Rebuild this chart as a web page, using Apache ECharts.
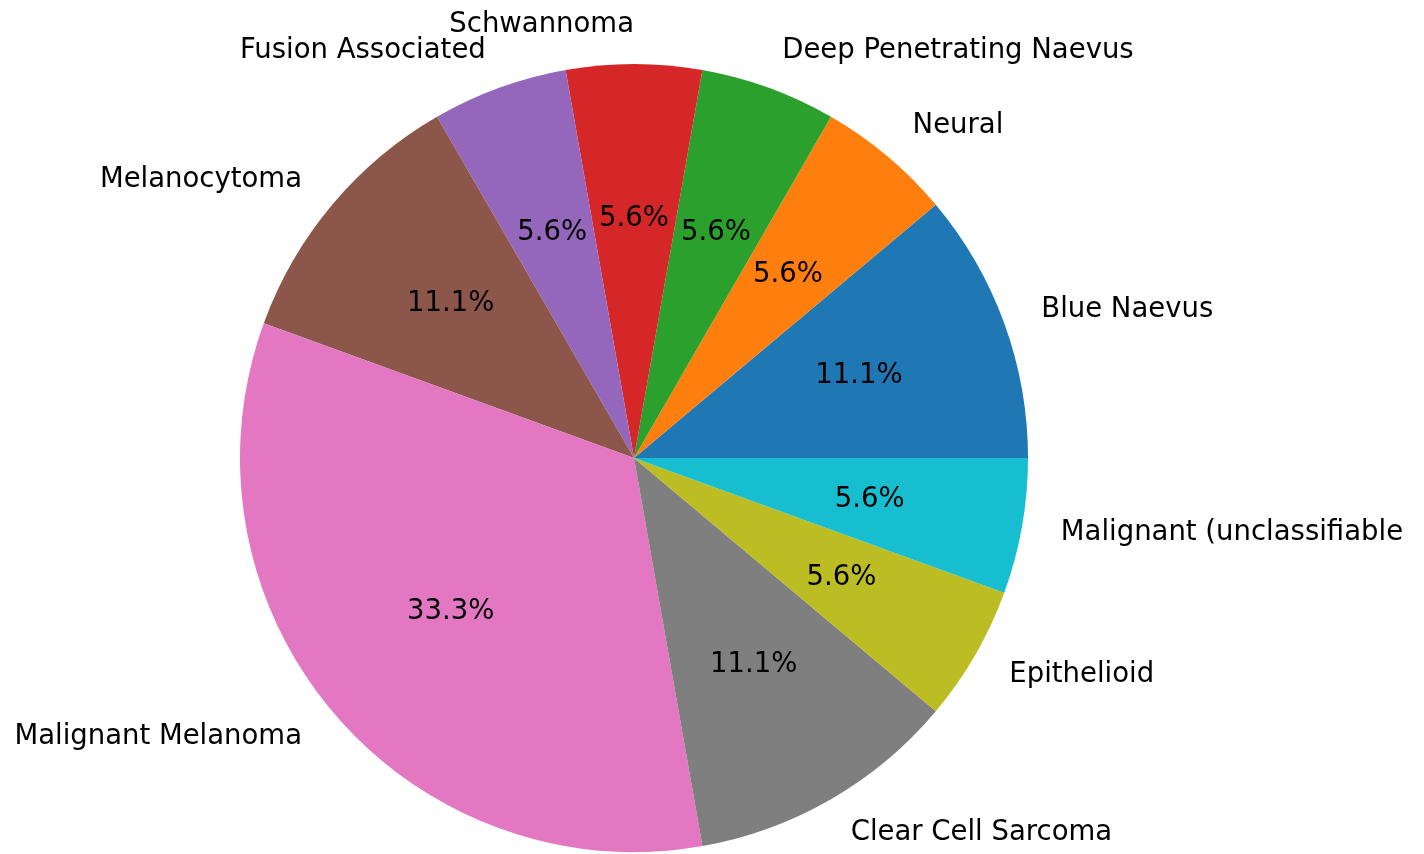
<!DOCTYPE html>
<html>
<head>
<meta charset="utf-8">
<script src="https://cdn.jsdelivr.net/npm/echarts@6/dist/echarts.min.js"></script>
<style>
html,body{margin:0;padding:0;background:#fff;}
#chart{width:1424px;height:854px;}
</style>
</head>
<body>
<div id="chart"></div>
<script>
// 类别与数量（逆时针，从3点钟方向开始）
var categories = ['Blue Naevus', 'Neural', 'Deep Penetrating Naevus', 'Schwannoma', 'Fusion Associated',
	'Melanocytoma', 'Malignant Melanoma', 'Clear Cell Sarcoma', 'Epithelioid', 'Malignant (unclassifiable'];
var counts = [2, 1, 1, 1, 1, 2, 6, 2, 1, 1];
var colors = ['#1f77b4', '#ff7f0e', '#2ca02c', '#d62728', '#9467bd', '#8c564b', '#e377c2', '#7f7f7f', '#bcbd22', '#17becf'];

var R = 394;
var center = [634, 458];
var font = 'DejaVu Sans';
var total = counts.reduce(function (a, b) { return a + b; }, 0);

var data = categories.map(function (name, i) {
	return { name: name, value: counts[i] };
});

var myChart = echarts.init(document.getElementById('chart'));
myChart.setOption({
	animation: false,
	color: colors,
	series: [
		{
			// 扇形本体 + 外部标签
			type: 'pie',
			center: center,
			radius: [0, R],
			startAngle: 0,
			clockwise: false,
			avoidLabelOverlap: false,
			silent: true,
			itemStyle: { borderWidth: 0 },
			label: {
				show: true,
				position: 'outside',
				formatter: '{b}',
				fontFamily: font,
				fontSize: 27.5,
				color: '#000',
				distanceToLabelLine: 0
			},
			// 正上方的标签（Schwannoma）右对齐
			labelLayout: function (params) {
				if (categories[params.dataIndex] === 'Schwannoma') {
					return { hideOverlap: false, align: 'right' };
				}
				return { hideOverlap: false };
			},
			labelLine: { show: false, length: R * 0.1, length2: 0 },
			data: data
		},
		{
			// 百分比标签（透明层，放在0.6R处）
			type: 'pie',
			center: center,
			radius: [0, R * 1.2],
			startAngle: 0,
			clockwise: false,
			silent: true,
			itemStyle: { color: 'rgba(0,0,0,0)', borderWidth: 0 },
			label: {
				show: true,
				position: 'inside',
				formatter: function (p) { return (p.value / total * 100).toFixed(1) + '%'; },
				fontFamily: font,
				fontSize: 27.5,
				color: '#000'
			},
			labelLayout: { hideOverlap: false },
			labelLine: { show: false },
			data: data
		}
	]
});
</script>
</body>
</html>
